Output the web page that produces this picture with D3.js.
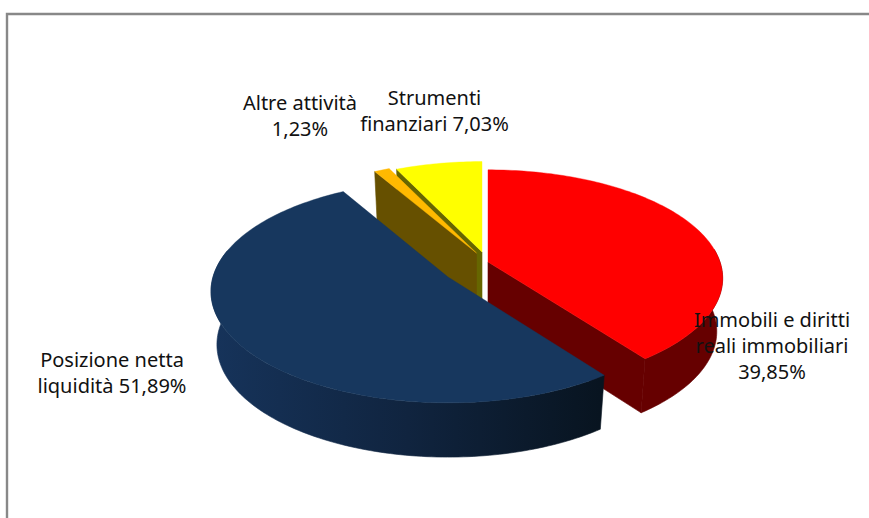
<!DOCTYPE html>
<html><head><meta charset="utf-8">
<script src="https://cdnjs.cloudflare.com/ajax/libs/d3/7.8.5/d3.min.js"></script>
<style>html,body{margin:0;padding:0;background:#fff}svg{display:block}</style>
</head><body><svg id="c" width="869" height="518"></svg>
<script>
const categories = ["Immobili e diritti reali immobiliari","Posizione netta liquidità","Altre attività","Strumenti finanziari"];
const values = [39.85,51.89,1.23,7.03];
const labelLines = [["Immobili e diritti","reali immobiliari","39,85%"],["Posizione netta","liquidità 51,89%"],["Altre attività","1,23%"],["Strumenti","finanziari 7,03%"]];
const topColors = ["#ff0000","#17375e","#ffb900","#ffff00"];
const wallColors = ["#660000","#0f2340","#665000","#666600"];

// layout
const apexes = [[488,262],[448,277],[476.5,253],[482,252]];
const labelAnchor = [[772,327],[112,367],[300,110],[434.5,105]];
const shapeS=[232,235,232,227], shapeT=[106,109.5,106,104], shapeK=[.15,.13,.15,.15];
const D=53,BX=0.975,BY=1.01;

const svg=d3.select("#c");
svg.append("path").attr("d","M7 518V14H869").attr("fill","none").attr("stroke","#888").attr("stroke-width",2.4);

const defs=svg.append("defs");
const g=defs.append("linearGradient").attr("id","bw").attr("gradientUnits","userSpaceOnUse")
 .attr("x1",215).attr("x2",600).attr("y1",0).attr("y2",0);
g.append("stop").attr("offset",0).attr("stop-color","#16335a");
g.append("stop").attr("offset",.5).attr("stop-color","#10243f");
g.append("stop").attr("offset",1).attr("stop-color","#081420");

const arcs=d3.pie().sort(null).value(d=>d)(values);
function P(i,a,bottom){
  const w=1+shapeK[i]*Math.cos(a);
  const x=shapeS[i]*Math.sin(a)/w, y=-shapeT[i]*Math.cos(a)/w;
  const [ax,ay]=apexes[i];
  return bottom?[ax+x*BX,ay+D+y*BY]:[ax+x,ay+y];
}
function samples(a0,a1){const n=Math.max(4,Math.ceil((a1-a0)/0.02));return d3.range(n+1).map(j=>a0+(a1-a0)*j/n);}
const line=d3.line();
function topFace(i,d){const [ax,ay]=apexes[i];return line([[ax,ay],...samples(d.startAngle,d.endAngle).map(a=>P(i,a,false))])+"Z";}
function outerWall(i,a0,a1){const s=samples(a0,a1);return line([...s.map(a=>P(i,a,false)),...s.slice().reverse().map(a=>P(i,a,true))])+"Z";}
function cutWall(i,a){const [ax,ay]=apexes[i];return line([[ax,ay],P(i,a,false),P(i,a,true),[ax,ay+D]])+"Z";}

const order=[3,2,0,1];
order.forEach(i=>{
  const d=arcs[i], G=svg.append("g");
  const wall=(p,c)=>G.append("path").attr("d",p).attr("fill",c).attr("stroke",c).attr("stroke-width",.6);
  if(i===3||i===2){wall(cutWall(i,d.startAngle),wallColors[i]);}
  if(i===0){
    wall(cutWall(i,d.endAngle),wallColors[i]);
    wall(outerWall(i,Math.PI/2-0.12,d.endAngle),wallColors[i]);
  }
  if(i===1){
    wall(outerWall(i,d.startAngle,Math.PI*1.5+0.25),"url(#bw)");
  }
  G.append("path").attr("d",topFace(i,d)).attr("fill",topColors[i]).attr("stroke",topColors[i]).attr("stroke-width",.4);
});

const text=svg.append("g").attr("font-family","'Noto Sans',sans-serif").attr("font-size",20).attr("fill","#111").attr("text-anchor","middle");
labelLines.forEach((ls,i)=>{
  ls.forEach((t,j)=>text.append("text").attr("x",labelAnchor[i][0]).attr("y",labelAnchor[i][1]+j*26).text(t));
});
</script></body></html>
